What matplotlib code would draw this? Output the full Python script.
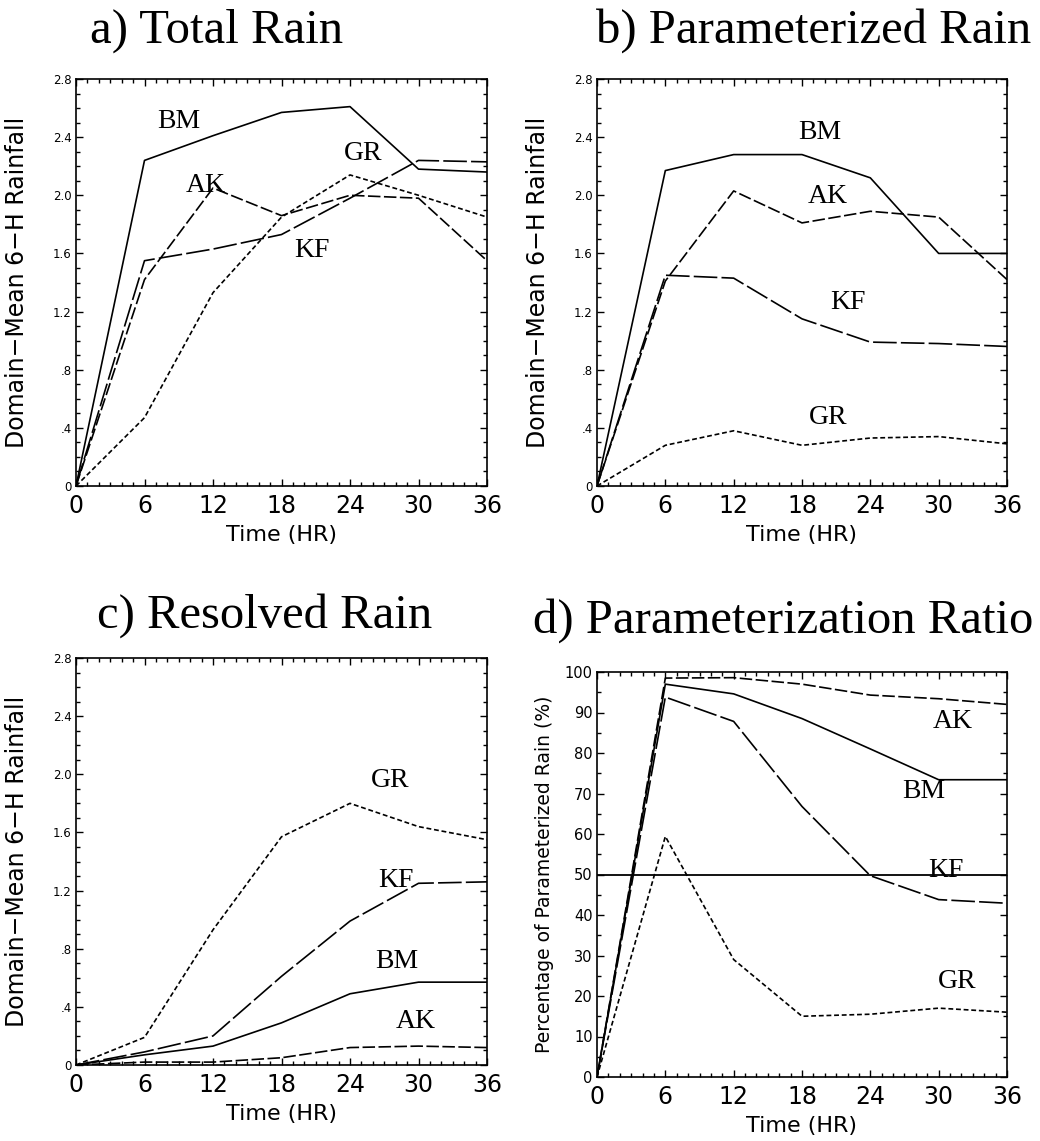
import numpy as np
import matplotlib
matplotlib.use("Agg")
import matplotlib.pyplot as plt
from matplotlib.ticker import MultipleLocator, FuncFormatter

plt.rcParams['font.family'] = 'DejaVu Sans'
plt.rcParams['lines.scale_dashes'] = False

hours = [0, 6, 12, 18, 24, 30, 36]
schemes = ['BM', 'AK', 'KF', 'GR']

# a) total rain
total_bm = [0, 2.24, 2.41, 2.57, 2.61, 2.18, 2.16]
total_ak = [0, 1.42, 2.05, 1.86, 2.00, 1.98, 1.55]
total_kf = [0, 1.55, 1.63, 1.73, 1.98, 2.24, 2.23]
total_gr = [0, 0.47, 1.33, 1.85, 2.14, 2.00, 1.85]

# b) parameterized rain
param_bm = [0, 2.17, 2.28, 2.28, 2.12, 1.60, 1.60]
param_ak = [0, 1.41, 2.03, 1.81, 1.89, 1.85, 1.42]
param_kf = [0, 1.45, 1.43, 1.15, 0.99, 0.98, 0.96]
param_gr = [0, 0.28, 0.38, 0.28, 0.33, 0.34, 0.29]

# c) resolved rain
resol_bm = [0, 0.07, 0.13, 0.29, 0.49, 0.57, 0.57]
resol_ak = [0, 0.02, 0.02, 0.05, 0.12, 0.13, 0.12]
resol_kf = [0, 0.09, 0.20, 0.61, 0.99, 1.25, 1.26]
resol_gr = [0, 0.19, 0.93, 1.57, 1.80, 1.64, 1.55]

# d) parameterization ratio (%)
ratio_bm = [0, 97.0, 94.6, 88.5, 81.0, 73.4, 73.4]
ratio_ak = [0, 98.5, 98.6, 97.0, 94.3, 93.4, 92.0]
ratio_kf = [0, 93.8, 87.8, 66.8, 49.7, 43.8, 42.9]
ratio_gr = [0, 59.4, 29.0, 15.0, 15.5, 17.0, 16.0]
ratio_ref = 50

titles = ['a) Total Rain', 'b) Parameterized Rain', 'c) Resolved Rain', 'd) Parameterization Ratio']

styles = {
    'BM': dict(linestyle='-'),
    'AK': dict(dashes=(9, 2.5)),
    'KF': dict(dashes=(17, 3)),
    'GR': dict(dashes=(3.5, 2)),
}

W, H = 1040, 1141
fig = plt.figure(figsize=(W / 100, H / 100), dpi=100)

def px_axes(l, t, r, b):
    return fig.add_axes([l / W, 1 - b / H, (r - l) / W, (b - t) / H])

def rain_fmt(v, pos):
    if abs(v) < 1e-9:
        return '0'
    s = '%.1f' % v
    return s[1:] if s.startswith('0') else s

def setup(ax, ymax, ymajor, yminor, ylabel, ylab_size, ytick_size, fmt):
    ax.set_xlim(0, 36)
    ax.set_ylim(0, ymax)
    ax.xaxis.set_major_locator(MultipleLocator(6))
    ax.xaxis.set_minor_locator(MultipleLocator(1))
    ax.yaxis.set_major_locator(MultipleLocator(ymajor))
    ax.yaxis.set_minor_locator(MultipleLocator(yminor))
    ax.yaxis.set_major_formatter(FuncFormatter(fmt))
    ax.tick_params(which='both', direction='in', top=True, right=True, width=1.0)
    ax.tick_params(which='major', length=5)
    ax.tick_params(which='minor', length=3)
    ax.tick_params(axis='x', labelsize=17, pad=6)
    ax.tick_params(axis='y', labelsize=ytick_size, pad=3)
    for s in ax.spines.values():
        s.set_linewidth(1.2)
    ax.set_xlabel('Time (HR)', fontsize=16, labelpad=5)
    ax.set_ylabel(ylabel, fontsize=ylab_size)

def draw(ax, series, labels):
    for name, vals in zip(schemes, series):
        ax.plot(hours, vals, color='black', lw=1.2, **styles[name])
    for name, (x, y) in zip(schemes, labels):
        ax.text(x, y, name, family='Liberation Serif', fontsize=20,
                ha='left', va='center', zorder=1)

ylab = 'Domain\u2212Mean 6\u2212H Rainfall'

ax_a = px_axes(76, 79, 487, 486)
setup(ax_a, 2.8, 0.4, 0.1, ylab, 17, 8.5, rain_fmt)
draw(ax_a, [total_bm, total_ak, total_kf, total_gr],
     [(7.1, 2.51), (9.6, 2.07), (19.1, 1.62), (23.5, 2.29)])
ax_a.yaxis.set_label_coords(-0.115, 0.5)

ax_b = px_axes(597, 79, 1007, 486)
setup(ax_b, 2.8, 0.4, 0.1, ylab, 17, 8.5, rain_fmt)
draw(ax_b, [param_bm, param_ak, param_kf, param_gr],
     [(17.7, 2.43), (18.5, 1.99), (20.5, 1.26), (18.6, 0.47)])
ax_b.yaxis.set_label_coords(-0.115, 0.5)

ax_c = px_axes(76, 658, 487, 1065)
setup(ax_c, 2.8, 0.4, 0.1, ylab, 17, 8.5, rain_fmt)
draw(ax_c, [resol_bm, resol_ak, resol_kf, resol_gr],
     [(26.2, 0.71), (28.0, 0.30), (26.5, 1.27), (25.8, 1.96)])
ax_c.yaxis.set_label_coords(-0.115, 0.5)

ax_d = px_axes(597, 672, 1007, 1077)
setup(ax_d, 100, 10, 5, 'Percentage of Parameterized Rain (%)', 13.5, 10.5,
      lambda v, p: '%d' % round(v))
draw(ax_d, [ratio_bm, ratio_ak, ratio_kf, ratio_gr],
     [(26.8, 70.4), (29.5, 87.7), (29.1, 51.1), (29.9, 23.6)])
ax_d.axhline(ratio_ref, color='black', lw=1.3, zorder=2)
ax_d.yaxis.set_label_coords(-0.105, 0.5)

title_pos = [(217, 43), (814, 43), (265, 628), (783, 633)]
for t, (x, y) in zip(titles, title_pos):
    fig.text(x / W, 1 - y / H, t, family='Liberation Serif', fontsize=35,
             ha='center', va='baseline')

fig.savefig('out.png', dpi=100)
